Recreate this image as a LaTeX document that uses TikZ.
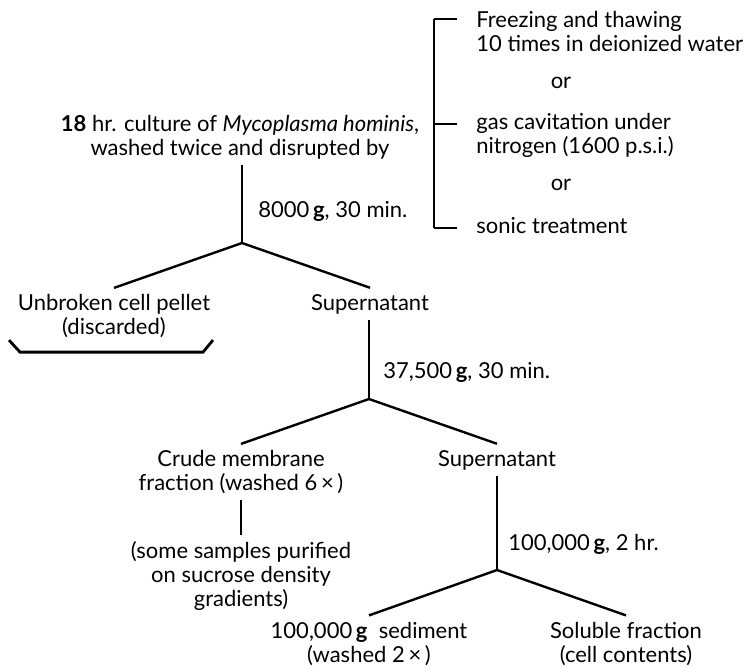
\documentclass[tikz,border=0pt]{standalone}
\usepackage{fontspec}
\setmainfont{Lato}
\tikzstyle{stage} = [align=center, inner sep=3pt, font=\fontsize{11pt}{12pt}\selectfont]
\tikzstyle{option} = [align=left, anchor=west, inner sep=0pt, font=\fontsize{11pt}{12pt}\selectfont]
\tikzstyle{spin} = [anchor=west, inner sep=0pt, font=\fontsize{11pt}{12pt}\selectfont]
\tikzstyle{link} = [line width=1.2pt]
\tikzstyle{bracket} = [line width=1.4pt]

\begin{document}
\begin{tikzpicture}[x=0.5pt, y=-0.5pt, node distance=60pt]
\useasboundingbox (0,0) rectangle (744,666);
\node (culture) [stage] at (240,137) {\textbf{18} hr. culture of \textit{Mycoplasma hominis},\\washed twice and disrupted by};
\node (unbroken) [stage, below of=culture, xshift=-63pt, yshift=-29.5pt] {Unbroken cell pellet\\(discarded)};
\node (sup1) [stage, below of=culture, xshift=65pt, yshift=-23.5pt] {Supernatant};
\node (crude) [stage, below of=sup1, xshift=-64.5pt, yshift=-24pt] {Crude membrane\\fraction (washed 6\,×\,)};
\node (sup2) [stage, below of=sup1, xshift=63.5pt, yshift=-18pt] {Supernatant};
\node (samples) [stage, below of=crude, yshift=8pt] {(some samples purified\\on sucrose density\\gradients)};
\node (sediment) [stage, below of=sup2, xshift=-64pt, yshift=-31.75pt] {100,000\,\textbf{g}\ \ sediment\\(washed 2\,×\,)};
\node (soluble) [stage, below of=sup2, xshift=64.5pt, yshift=-31.75pt] {Soluble fraction\\(cell contents)};

% disruption methods
\node (freeze) [option] at (476,31) {Freezing and thawing\\10 times in deionized water};
\node (or1) [stage] at (561,83) {or};
\node (gas) [option] at (476,135.5) {gas cavitation under\\nitrogen (1600 p.s.i.)};
\node (or2) [stage] at (561,185) {or};
\node (sonic) [option] at (476,226) {sonic treatment};
\coordinate (btop) at (434,19);
\coordinate (bmid) at (434,124);
\coordinate (bbot) at (434,228);
\draw [bracket] (btop) -- (bbot);
\draw [bracket] (btop) -- ++(23,0);
\draw [bracket] (bmid) -- ++(23,0);
\draw [bracket] (bbot) -- ++(23,0);

% centrifugation steps
\coordinate (fork1) at (242,243);
\coordinate (fork2) at (369,399);
\coordinate (fork3) at (497,570);
\node (spin1) [spin] at (258,211) {8000\,\textbf{g}, 30 min.};
\node (spin2) [spin] at (383,372) {37,500\,\textbf{g}, 30 min.};
\node (spin3) [spin] at (508,544) {100,000\,\textbf{g}, 2 hr.};

\draw [link] (culture.south -| fork1) -- (fork1);
\draw [link] (fork1) -- (unbroken.north);
\draw [link] (fork1) -- (sup1.north);
\draw [link] (sup1.south -| fork2) -- (fork2);
\draw [link] (fork2) -- (crude.north);
\draw [link] (fork2) -- (sup2.north);
\draw [link] (crude) -- (samples);
\draw [link] (sup2.south -| fork3) -- (fork3);
\draw [link] (fork3) -- (sediment.north);
\draw [link] (fork3) -- (soluble.north);
\draw [bracket] ([shift={(-105,-4)}]unbroken.south) -- ++(11,12) -- ++(183,0) -- ++(10,-12);
\end{tikzpicture}
\end{document}
